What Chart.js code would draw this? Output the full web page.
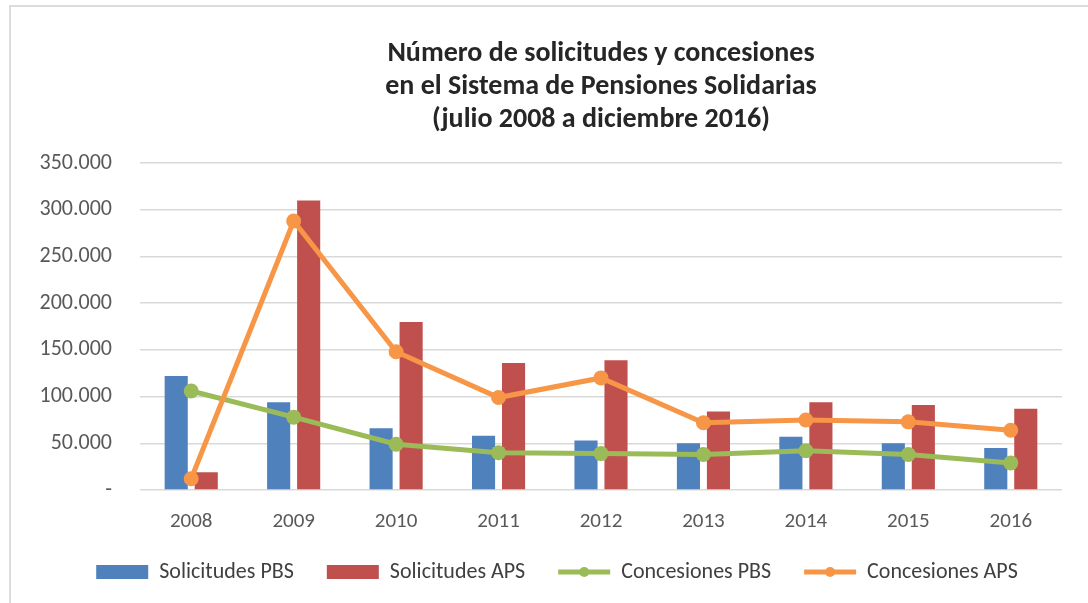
<!DOCTYPE html>
<html>
<head>
<meta charset="utf-8">
<script src="https://cdn.jsdelivr.net/npm/chart.js@4.4.1/dist/chart.umd.min.js"></script>
<style>
    html, body { margin: 0; padding: 0; background: #fff; overflow: hidden; }
    #wrap { position: relative; width: 1088px; height: 603px; overflow: hidden; }
    #frame { position: absolute; left: 9px; top: 5px; width: 1100px; height: 620px; border: 2px solid #dcdcdc; box-sizing: border-box; }
    canvas { position: absolute; left: 0; top: 0; }
</style>
</head>
<body>
<div id="wrap">
    <div id="frame"></div>
    <canvas id="chart" width="1088" height="603"></canvas>
</div>
<script>
const years = ['2008', '2009', '2010', '2011', '2012', '2013', '2014', '2015', '2016'];
const solicitudesPBS = [122000, 94000, 66000, 58000, 53000, 50000, 57000, 50000, 45000];
const solicitudesAPS = [19000, 310000, 180000, 136000, 139000, 84000, 94000, 91000, 87000];
const concesionesPBS = [106000, 78000, 49000, 40000, 39000, 38000, 42000, 38000, 29000];
const concesionesAPS = [12000, 288000, 148000, 99000, 120000, 72000, 75000, 73000, 64000];
const titleLines = ['Número de solicitudes y concesiones', 'en el Sistema de Pensiones Solidarias', '(julio 2008 a diciembre 2016)'];

const FONT = "Carlito, 'Liberation Sans Narrow', Lato, sans-serif";
const LEGEND_SIZE = 22;

function formatTick(v) {
    if (v === 0) return '-';
    return String(v).replace(/\B(?=(\d{3})+(?!\d))/g, '.');
}

// small round marker in the middle of the legend lines
const legendMarkers = {
    id: 'legendMarkers',
    afterDraw(chart) {
        const lg = chart.legend;
        if (!lg || !lg.legendHitBoxes) return;
        const c = chart.ctx;
        lg.legendItems.forEach((item, i) => {
            const ds = chart.data.datasets[item.datasetIndex];
            if (ds.type !== 'line') return;
            const hb = lg.legendHitBoxes[i];
            c.save();
            c.fillStyle = ds.borderColor;
            c.beginPath();
            c.arc(hb.left + 26, hb.top + LEGEND_SIZE / 2, 5, 0, Math.PI * 2);
            c.fill();
            c.restore();
        });
    }
};

// the axis boxes are kept tight for layout; widen them afterwards so tick labels aren't clipped
const looseAxes = {
    id: 'looseAxes',
    afterLayout(chart) {
        chart.scales.x.bottom = chart.scales.x.top + 70;
        chart.scales.y.left = 0;
    }
};

const ctx = document.getElementById('chart').getContext('2d');

new Chart(ctx, {
    data: {
        labels: years,
        datasets: [
            {
                type: 'bar',
                label: 'Solicitudes PBS',
                data: solicitudesPBS,
                backgroundColor: '#4F81BD',
                borderWidth: 0,
                pointStyle: 'rect',
                order: 2
            },
            {
                type: 'bar',
                label: 'Solicitudes APS',
                data: solicitudesAPS,
                backgroundColor: '#C0504D',
                borderWidth: 0,
                pointStyle: 'rect',
                order: 3
            },
            {
                type: 'line',
                label: 'Concesiones PBS',
                data: concesionesPBS,
                borderColor: '#9BBB59',
                backgroundColor: '#9BBB59',
                borderWidth: 5,
                pointRadius: 7.5,
                pointBorderWidth: 0,
                pointBackgroundColor: '#9BBB59',
                tension: 0,
                order: 1
            },
            {
                type: 'line',
                label: 'Concesiones APS',
                data: concesionesAPS,
                borderColor: '#F79646',
                backgroundColor: '#F79646',
                borderWidth: 5,
                pointRadius: 7.5,
                pointBorderWidth: 0,
                pointBackgroundColor: '#F79646',
                tension: 0,
                order: 0
            }
        ]
    },
    options: {
        responsive: false,
        animation: false,
        layout: { padding: { left: 52, right: 26, top: 20, bottom: 10 } },
        datasets: {
            bar: { categoryPercentage: 0.586, barPercentage: 0.77 }
        },
        plugins: {
            title: {
                display: true,
                text: titleLines,
                fullSize: false,
                color: '#262626',
                font: { family: FONT, size: 28, weight: 'bold', lineHeight: 1.18 },
                padding: { top: 17, bottom: 27 }
            },
            legend: {
                position: 'bottom',
                labels: {
                    usePointStyle: true,
                    pointStyleWidth: 52,
                    boxHeight: 14,
                    padding: 33,
                    color: '#404040',
                    font: { family: FONT, size: LEGEND_SIZE },
                    generateLabels: (chart) => {
                        const items = Chart.defaults.plugins.legend.labels.generateLabels(chart);
                        items.sort((a, b) => a.datasetIndex - b.datasetIndex);
                        items.forEach(item => {
                            const ds = chart.data.datasets[item.datasetIndex];
                            if (ds.type === 'line') {
                                item.pointStyle = 'line';
                                item.lineWidth = ds.borderWidth;
                                item.strokeStyle = ds.borderColor;
                            } else {
                                item.pointStyle = 'rect';
                                item.lineWidth = 0;
                            }
                        });
                        return items;
                    }
                }
            },
            tooltip: { enabled: false }
        },
        scales: {
            x: {
                afterFit: (scale) => { scale.height = 38; },
                grid: { display: false },
                border: { display: false },
                ticks: { color: '#595959', padding: 11, font: { family: FONT, size: 21 } }
            },
            y: {
                min: 0,
                max: 350000,
                afterFit: (scale) => { scale.width = 88; },
                grid: { color: '#d9d9d9', lineWidth: 1.5, drawTicks: false },
                border: { display: false },
                ticks: {
                    stepSize: 50000,
                    padding: 28,
                    color: '#595959',
                    font: { family: FONT, size: 22 },
                    callback: (v) => formatTick(v)
                }
            }
        }
    },
    plugins: [legendMarkers, looseAxes]
});
</script>
</body>
</html>
